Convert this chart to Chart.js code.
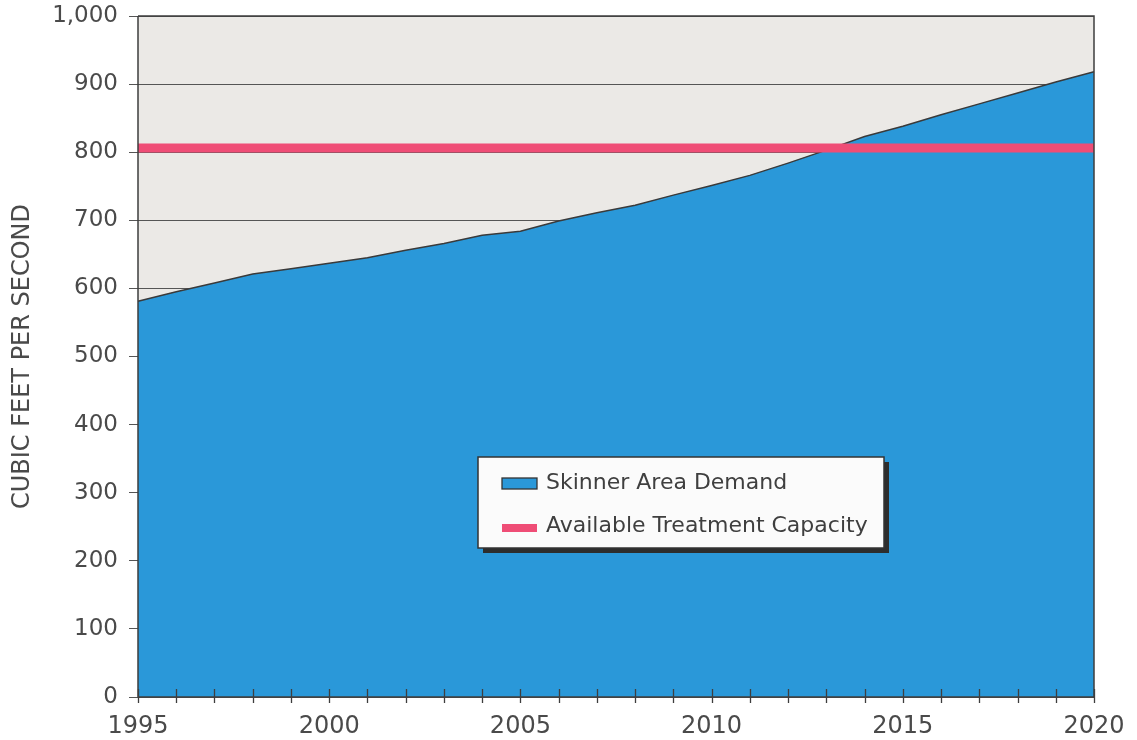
<!DOCTYPE html>
<html>
<head>
<meta charset="utf-8">
<title>Skinner Area Demand</title>
<script src="https://cdn.jsdelivr.net/npm/chart.js@4/dist/chart.umd.min.js"></script>
<style>
  body { margin: 0; background: #ffffff; }
  #demand_chart { display: block; }
</style>
</head>
<body>
<canvas id="demand_chart" width="1137" height="740"></canvas>
<script>
var years = [1995, 1996, 1997, 1998, 1999, 2000, 2001, 2002, 2003, 2004, 2005, 2006, 2007,
             2008, 2009, 2010, 2011, 2012, 2013, 2014, 2015, 2016, 2017, 2018, 2019, 2020];

var demand = [581, 595, 608, 621, 629, 637, 645, 656, 666, 678, 684, 699, 711,
              722, 737, 751, 766, 784, 803, 823, 838, 855, 871, 887, 903, 918];

var capacity = [806, 806, 806, 806, 806, 806, 806, 806, 806, 806, 806, 806, 806,
                806, 806, 806, 806, 806, 806, 806, 806, 806, 806, 806, 806, 806];

var yTicks = [0, 100, 200, 300, 400, 500, 600, 700, 800, 900, 1000];

var blue = '#2a98d9';
var pink = '#ef4d76';

// grey plot background, frame, year ticks and the boxed legend
var frame_plugin = {
  id: 'frame',
  beforeDraw: function(chart) {
    var a = chart.chartArea, ctx = chart.ctx;
    ctx.save();
    ctx.fillStyle = '#ebe9e6';
    ctx.fillRect(a.left, a.top, a.right - a.left, a.bottom - a.top);
    ctx.restore();
  },
  afterDatasetsDraw: function(chart) {
    var a = chart.chartArea, ctx = chart.ctx, x = chart.scales.x;
    ctx.save();
    ctx.strokeStyle = '#3e3e3e';
    ctx.lineWidth = 1.5;
    ctx.beginPath();
    ctx.moveTo(a.left, a.top);
    ctx.lineTo(a.right, a.top);
    ctx.lineTo(a.right, a.bottom);
    ctx.lineTo(a.left, a.bottom);
    ctx.lineTo(a.left, a.top);
    ctx.stroke();
    ctx.lineWidth = 1.3;
    ctx.beginPath();
    for (var i = 0; i < years.length; i++) {
      var px = Math.round(x.getPixelForValue(i)) + 0.5;
      ctx.moveTo(px, a.bottom - 8);
      ctx.lineTo(px, a.bottom + 6);
    }
    ctx.stroke();
    ctx.restore();
  },
  afterDraw: function(chart) {
    var ctx = chart.ctx, ds = chart.data.datasets;
    var bx = 478, by = 457, bw = 406, bh = 91;
    ctx.save();
    ctx.fillStyle = '#2d2d2d';
    ctx.fillRect(bx + 5, by + 5, bw, bh);
    ctx.fillStyle = '#fbfbfb';
    ctx.fillRect(bx, by, bw, bh);
    ctx.strokeStyle = '#333';
    ctx.lineWidth = 1.5;
    ctx.strokeRect(bx, by, bw, bh);

    // demand swatch
    ctx.fillStyle = ds[1].backgroundColor;
    ctx.fillRect(bx + 24, by + 21, 35, 11);
    ctx.strokeStyle = '#333';
    ctx.lineWidth = 1.3;
    ctx.strokeRect(bx + 24, by + 21, 35, 11);
    // capacity swatch
    ctx.fillStyle = ds[0].borderColor;
    ctx.fillRect(bx + 24, by + 67, 35, 8);

    ctx.fillStyle = '#3f3f3f';
    ctx.font = '22px "DejaVu Sans"';
    ctx.textBaseline = 'middle';
    ctx.fillText(ds[1].label, bx + 68, by + 26);
    ctx.fillText(ds[0].label, bx + 68, by + 69);
    ctx.restore();
  }
};

var chart_config = {
  type: 'line',
  data: {
    labels: years,
    datasets: [{
      label: 'Available Treatment Capacity',
      data: capacity,
      borderColor: pink,
      borderWidth: 9,
      pointRadius: 0,
      fill: false,
      order: 0
    }, {
      label: 'Skinner Area Demand',
      data: demand,
      backgroundColor: blue,
      borderColor: '#3a3a3a',
      borderWidth: 1.5,
      pointRadius: 0,
      tension: 0,
      fill: 'origin',
      order: 1
    }]
  },
  options: {
    responsive: false,
    animation: false,
    layout: {
      padding: { top: 0, right: 43, left: 0, bottom: 0 }
    },
    plugins: {
      legend: { display: false },
      tooltip: { enabled: false },
      title: { display: false }
    },
    scales: {
      x: {
        type: 'category',
        offset: false,
        grid: { display: false },
        border: { display: false },
        ticks: {
          autoSkip: false,
          maxRotation: 0,
          padding: 7,
          color: '#4a4a4a',
          font: { family: 'DejaVu Sans', size: 24 },
          callback: function(value, index) {
            var yr = years[index];
            return yr % 5 === 0 ? String(yr) : '';
          }
        },
        afterFit: function(scale) { scale.height = 43; }
      },
      y: {
        min: 0,
        max: 1000,
        afterBuildTicks: function(scale) {
          scale.ticks = yTicks.map(function(v) { return { value: v }; });
        },
        grid: {
          color: '#555',
          lineWidth: 1,
          tickLength: 9
        },
        border: { display: false },
        ticks: {
          padding: 11,
          color: '#4a4a4a',
          font: { family: 'DejaVu Sans', size: 23 },
          callback: function(value) { return value.toLocaleString('en-US'); }
        },
        title: {
          display: true,
          text: 'CUBIC FEET PER SECOND',
          color: '#4a4a4a',
          font: { family: 'DejaVu Sans', size: 24 },
          padding: { top: 8, bottom: 0 }
        },
        afterFit: function(scale) {
          scale.width = 138;
          scale.paddingTop = 16;
          scale.paddingBottom = 0;
        }
      }
    }
  },
  plugins: [frame_plugin]
};

window.onload = function() {
  var demand_ctx = document.getElementById('demand_chart').getContext('2d');
  var demand_chart = new Chart(demand_ctx, chart_config);
};
</script>
</body>
</html>
